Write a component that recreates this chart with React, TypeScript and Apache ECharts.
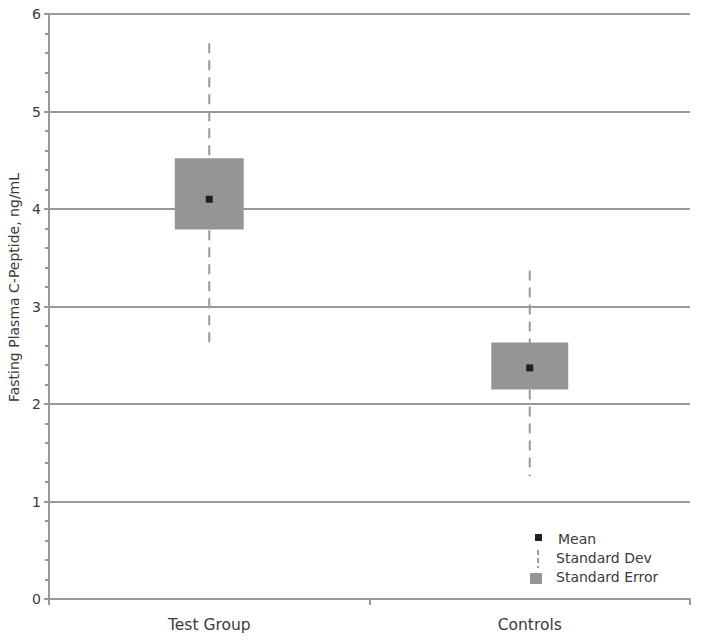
import React, { useEffect, useRef } from "react";
import * as echarts from "echarts";

const categories = ["Test Group", "Controls"];
const means = [4.1, 2.37];
const seHigh = [4.52, 2.63];
const seLow = [3.79, 2.15];
const sdHigh = [5.7, 3.37];
const sdLow = [2.6, 1.26];
const yTicks = [0, 1, 2, 3, 4, 5, 6];

const boxWidthFrac = [0.215, 0.24];
const FONT = "DejaVu Sans";
const GRAY = "#999999";
const BOX = "#959595";
const MEAN = "#231f20";
const TEXT = "#3a3a3a";

export default function App() {
  const ref = useRef<HTMLDivElement>(null);
  useEffect(() => {
    if (!ref.current) return;
    const chart = echarts.init(ref.current, undefined, { renderer: "svg" });
    const data = categories.map((c, i) => [i, means[i], seLow[i], seHigh[i], sdLow[i], sdHigh[i]]);
    chart.setOption({
      animation: false,
      textStyle: { fontFamily: FONT },
      grid: { left: 49, right: 11, top: 14, bottom: 43, containLabel: false, outerBoundsMode: "none" },
      xAxis: {
        type: "category",
        data: categories,
        boundaryGap: true,
        axisLine: { lineStyle: { color: GRAY, width: 2 } },
        axisTick: { show: true, length: 6, lineStyle: { color: GRAY, width: 2 } },
        axisLabel: { color: TEXT, fontSize: 15.5, margin: 18, fontFamily: FONT },
        splitLine: { show: false },
      },
      yAxis: {
        type: "value",
        min: yTicks[0],
        max: yTicks[yTicks.length - 1],
        interval: 1,
        name: "Fasting Plasma C-Peptide, ng/mL",
        nameLocation: "middle",
        nameGap: 26,
        nameRotate: 90,
        nameTextStyle: { color: TEXT, fontSize: 14, fontFamily: FONT, padding: [0, 0, 0, 38] },
        axisLine: { show: true, lineStyle: { color: GRAY, width: 2 } },
        axisTick: { show: true, length: 5, lineStyle: { color: GRAY, width: 2 } },
        minorTick: { show: true, splitNumber: 5, length: 4, lineStyle: { color: GRAY, width: 2 } },
        axisLabel: { color: TEXT, fontSize: 14, margin: 8, fontFamily: FONT },
        splitLine: { show: true, lineStyle: { color: GRAY, width: 2 } },
      },
      series: [
        {
          type: "custom",
          data,
          encode: { x: 0, y: [1, 2, 3, 4, 5] },
          renderItem: (params: any, api: any) => {
            const i = api.value(0);
            const m = api.coord([i, api.value(1)]);
            const seL = api.coord([i, api.value(2)]);
            const seH = api.coord([i, api.value(3)]);
            const sdL = api.coord([i, api.value(4)]);
            const sdH = api.coord([i, api.value(5)]);
            const band = api.size([1, 0])[0];
            const bw = band * boxWidthFrac[params.dataIndex];
            const x = m[0];
            return {
              type: "group",
              children: [
                {
                  type: "line",
                  shape: { x1: x, y1: sdH[1], x2: x, y2: sdL[1] },
                  style: { stroke: GRAY, lineWidth: 2, lineDash: [10, 7] },
                },
                {
                  type: "rect",
                  shape: { x: x - bw / 2, y: seH[1], width: bw, height: seL[1] - seH[1] },
                  style: { fill: BOX },
                },
                {
                  type: "rect",
                  shape: { x: x - 3.5, y: m[1] - 3.5, width: 7, height: 7 },
                  style: { fill: MEAN },
                },
              ],
            };
          },
          z: 5,
        },
      ],
      graphic: [
        { type: "rect", left: 535, top: 534, shape: { width: 7, height: 7 }, style: { fill: MEAN } },
        {
          type: "line",
          shape: { x1: 538, y1: 550, x2: 538, y2: 568 },
          style: { stroke: GRAY, lineWidth: 2, lineDash: [5, 3] },
        },
        { type: "rect", left: 530, top: 573, shape: { width: 12, height: 11 }, style: { fill: BOX } },
        { type: "text", left: 558, top: 532, style: { text: "Mean", fill: TEXT, fontSize: 14, fontFamily: FONT } },
        { type: "text", left: 556, top: 551, style: { text: "Standard Dev", fill: TEXT, fontSize: 14, fontFamily: FONT } },
        { type: "text", left: 556, top: 570, style: { text: "Standard Error", fill: TEXT, fontSize: 14, fontFamily: FONT } },
      ],
    });
    return () => chart.dispose();
  }, []);
  return <div ref={ref} style={{ width: 701, height: 642, position: "absolute", left: 0, top: 0, background: "#fff" }} />;
}
